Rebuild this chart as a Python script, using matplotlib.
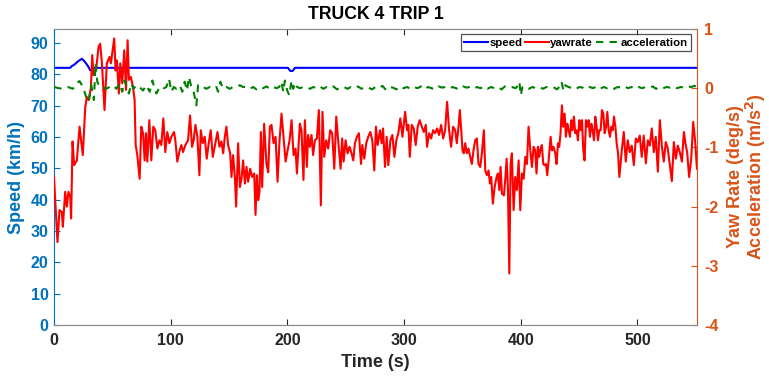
import matplotlib
matplotlib.use('Agg')
import matplotlib.pyplot as plt
from matplotlib.lines import Line2D

plt.rcParams['font.family'] = ['Liberation Sans', 'DejaVu Sans']
plt.rcParams['font.weight'] = 'bold'
plt.rcParams['axes.unicode_minus'] = False

# speed trace (km/h)
speed_time = [0, 14, 15, 17, 19.5, 21, 24, 26.5, 28.5, 30, 31, 32.5, 34,
              200.5, 202.5, 204.5, 206.5, 551]
speed = [82.1, 82.1, 82.6, 83.0, 83.8, 84.3, 85.0, 84.0, 83.0, 82.1, 81.3, 81.3, 82.1,
         82.1, 81.1, 81.1, 82.1, 82.1]

# yaw rate (deg/s)
yaw_time = [
    0.0, 3.0, 4.7, 6.7, 7.6, 9.6, 11.0, 12.4, 13.9, 14.7,
    15.9, 17.3, 19.6, 21.9, 24.7, 26.8, 28.2, 29.6, 31.6, 32.8,
    33.9, 36.2, 38.2, 39.6, 41.1, 43.3, 45.3, 47.6, 48.8, 49.9,
    51.6, 52.8, 53.9, 55.6, 56.8, 58.5, 60.2, 61.7, 63.1, 64.2,
    65.9, 67.7, 69.1, 70.0, 71.4, 73.4, 74.8, 76.3, 77.7, 78.8,
    80.0, 81.7, 83.4, 85.1, 86.8, 88.6, 90.3, 92.0, 93.7, 95.4,
    97.1, 98.9, 100.6, 102.9, 104.0, 105.7, 107.7, 109.2, 110.6, 112.6,
    114.9, 116.6, 118.3, 119.7, 121.2, 122.9, 124.6, 125.8, 127.5, 129.2,
    130.9, 132.6, 134.3, 136.1, 140.1, 141.8, 143.5, 145.0, 146.4, 147.8,
    149.2, 151.0, 152.1, 153.5, 155.0, 156.1, 157.8, 159.3, 160.7, 162.1,
    163.6, 165.0, 166.4, 168.1, 169.8, 171.6, 172.7, 173.9, 175.0, 176.1,
    177.3, 178.4, 180.1, 182.1, 183.6, 185.0, 186.4, 188.2, 189.9, 191.6,
    193.3, 195.0, 196.7, 198.5, 200.2, 201.9, 203.6, 205.3, 207.0, 208.2,
    210.7, 212.1, 213.8, 215.0, 216.7, 217.8, 219.3, 220.7, 222.1, 223.6,
    225.3, 227.0, 228.7, 230.1, 231.6, 233.3, 235.0, 236.7, 238.4, 240.2,
    241.9, 243.6, 245.6, 247.0, 248.2, 249.9, 251.6, 253.3, 255.0, 256.5,
    257.9, 259.6, 261.3, 263.1, 264.2, 265.9, 267.6, 269.3, 271.1, 272.8,
    274.5, 275.9, 277.4, 279.4, 280.8, 282.0, 283.7, 285.1, 286.5, 288.3,
    290.0, 291.7, 293.4, 295.1, 296.8, 298.6, 300.9, 302.6, 303.7, 304.9,
    306.6, 308.3, 310.0, 311.7, 313.4, 315.2, 316.9, 318.6, 319.7, 321.5,
    323.2, 324.9, 326.6, 328.3, 330.0, 331.8, 333.5, 335.2, 336.9, 338.6,
    340.3, 342.1, 343.8, 345.2, 346.7, 347.8, 349.0, 350.1, 351.2, 352.4,
    353.8, 355.2, 356.7, 358.1, 359.5, 361.0, 362.4, 363.8, 365.3, 366.7,
    368.4, 369.6, 371.0, 372.4, 373.6, 374.7, 376.1, 377.6, 379.3, 380.4,
    381.6, 382.7, 383.9, 385.6, 386.7, 387.9, 389.0, 390.2, 391.3, 392.4,
    393.9, 395.3, 396.7, 398.2, 399.6, 401.0, 402.5, 403.9, 405.3, 406.7,
    408.2, 409.6, 411.0, 412.4, 413.5, 414.7, 415.8, 417.0, 418.1, 419.3,
    420.4, 421.6, 422.7, 423.8, 425.6, 426.7, 428.1, 429.6, 430.7, 431.9,
    433.0, 434.1, 435.3, 436.4, 437.6, 438.7, 439.9, 441.0, 442.2, 443.3,
    444.4, 445.6, 446.7, 447.9, 449.0, 450.2, 451.3, 452.5, 453.6, 454.7,
    455.9, 457.0, 458.2, 459.3, 460.5, 461.6, 462.8, 463.9, 465.0, 466.2,
    467.3, 468.5, 469.6, 470.8, 471.9, 473.1, 474.2, 475.3, 476.5, 477.6,
    478.8, 479.9, 481.1, 482.2, 483.4, 484.5, 486.6, 488.3, 490.0, 491.7,
    493.4, 495.1, 496.9, 498.6, 500.3, 502.0, 503.7, 505.4, 507.2, 508.9,
    510.6, 512.3, 514.0, 515.7, 517.5, 519.2, 520.9, 522.6, 524.3, 526.0,
    527.8, 529.5, 531.2, 532.9, 534.6, 536.3, 538.1, 539.8, 541.2, 542.6,
    544.3, 546.1, 547.8, 549.5, 551.0,
]
yaw_rate = [
    -1.50, -2.60, -2.06, -2.09, -2.34, -1.75, -2.00, -1.75, -1.83, -2.20,
    -0.90, -1.30, -1.22, -0.65, -1.13, -0.32, -0.15, -0.20, 0.00, 0.56,
    0.22, 0.33, 0.70, 0.75, 0.42, -0.37, 0.42, 0.53, 0.42, 0.59,
    0.84, 0.30, 0.47, -0.09, 0.42, 0.08, 0.64, -0.03, 0.81, 0.14,
    0.19, 0.02, -0.20, -0.96, -1.13, -1.53, -0.65, -0.76, -1.22, -0.76,
    -1.24, -0.54, -1.22, -0.65, -0.71, -1.02, -0.88, -0.96, -0.51, -1.08,
    -0.74, -0.93, -0.82, -0.74, -0.88, -1.24, -1.05, -0.96, -1.08, -0.96,
    -0.88, -0.46, -0.99, -0.88, -0.62, -0.82, -1.47, -0.71, -0.93, -0.82,
    -1.19, -0.93, -0.71, -1.16, -0.74, -0.99, -0.90, -1.10, -0.82, -0.65,
    -0.96, -1.10, -1.50, -1.13, -1.50, -2.00, -0.93, -1.67, -1.53, -1.22,
    -1.61, -1.33, -1.58, -1.36, -1.50, -1.44, -2.14, -1.47, -1.89, -1.75,
    -0.74, -1.67, -0.60, -1.28, -1.42, -0.65, -0.62, -0.93, -0.82, -1.58,
    -0.88, -0.43, -0.82, -1.24, -1.05, -0.88, -0.54, -1.13, -1.02, -1.44,
    -0.60, -0.71, -1.55, -0.54, -1.33, -0.79, -0.99, -0.79, -1.13, -0.88,
    -0.85, -0.37, -1.98, -0.40, -1.16, -0.88, -1.02, -0.71, -0.76, -1.36,
    -0.48, -0.90, -1.36, -0.85, -1.24, -0.88, -1.10, -0.99, -1.10, -1.22,
    -0.93, -0.82, -0.76, -1.28, -0.96, -1.19, -0.93, -0.82, -0.74, -0.88,
    -1.39, -0.65, -0.96, -0.71, -0.93, -0.68, -1.33, -0.82, -1.30, -0.88,
    -0.79, -1.16, -0.88, -0.76, -0.51, -0.82, -0.40, -0.71, -0.62, -1.16,
    -0.62, -0.68, -0.96, -0.65, -0.54, -0.65, -0.74, -0.62, -0.99, -0.76,
    -0.85, -0.71, -0.76, -0.68, -0.79, -0.62, -0.85, -0.71, -0.23, -0.71,
    -0.99, -0.65, -0.71, -0.93, -0.65, -0.37, -0.71, -1.05, -1.10, -0.93,
    -1.10, -1.02, -1.16, -1.28, -1.05, -0.88, -0.85, -1.28, -1.33, -1.10,
    -0.71, -1.39, -1.47, -1.39, -1.61, -1.50, -1.95, -1.67, -1.50, -1.44,
    -1.72, -1.33, -1.78, -1.81, -1.55, -1.19, -1.67, -3.13, -1.28, -1.10,
    -2.06, -1.50, -1.72, -1.22, -2.06, -1.44, -1.53, -1.16, -1.28, -0.65,
    -1.05, -1.33, -0.99, -1.05, -1.44, -0.99, -1.16, -1.02, -0.96, -1.28,
    -1.30, -1.28, -1.47, -1.24, -0.82, -1.05, -0.99, -1.10, -1.28, -0.93,
    -0.99, -0.76, -0.29, -0.65, -0.43, -0.82, -0.60, -0.71, -0.82, -0.54,
    -0.71, -0.48, -0.76, -0.71, -0.88, -0.54, -0.71, -0.54, -1.05, -1.22,
    -0.54, -0.65, -0.54, -0.82, -0.60, -0.71, -0.88, -0.48, -0.65, -0.88,
    -0.71, -0.71, -0.37, -0.43, -0.76, -0.65, -0.40, -0.71, -0.82, -0.65,
    -0.71, -0.48, -0.65, -0.93, -1.10, -1.50, -1.05, -0.74, -1.24, -0.88,
    -1.08, -0.97, -1.30, -0.85, -0.91, -0.80, -1.16, -0.80, -1.27, -0.88,
    -0.97, -0.68, -1.08, -0.82, -1.41, -0.54, -0.97, -1.24, -0.91, -1.02,
    -1.30, -1.57, -0.91, -1.19, -0.97, -1.08, -1.24, -0.74, -0.94, -1.08,
    -1.50, -1.19, -0.57, -0.91, -1.36,
]

# longitudinal acceleration (m/s^2)
acc_time = [
    0.4, 4.0, 7.6, 11.9, 16.2, 19.0, 21.9, 24.8, 27.6, 29.9,
    31.9, 34.2, 35.6, 37.1, 39.1, 41.9, 44.8, 47.6, 50.5, 53.4,
    56.2, 58.5, 60.5, 62.5, 64.2, 66.2, 68.2, 70.5, 73.4, 76.3,
    79.1, 82.0, 84.3, 86.3, 87.7, 90.6, 93.4, 96.3, 98.6, 100.6,
    102.6, 104.9, 107.7, 110.0, 112.0, 114.0, 115.7, 117.7, 119.7, 122.0,
    123.5, 124.9, 127.8, 130.6, 133.5, 136.3, 139.2, 140.6, 142.6, 144.9,
    147.8, 150.6, 153.5, 156.4, 159.2, 162.1, 164.9, 167.8, 170.7, 173.5,
    176.4, 179.3, 182.1, 185.0, 187.8, 190.7, 193.0, 195.0, 196.4, 197.9,
    199.9, 201.6, 203.6, 205.0, 206.7, 208.4, 210.7, 213.6, 216.5, 219.3,
    222.2, 225.0, 227.9, 230.8, 233.6, 236.5, 239.5, 242.5, 245.5, 248.5,
    251.5, 254.5, 257.5, 260.5, 263.5, 266.5, 269.5, 272.5, 275.5, 278.5,
    281.5, 284.5, 287.5, 290.5, 293.5, 296.5, 299.5, 302.5, 305.5, 308.5,
    311.5, 314.5, 317.5, 320.5, 323.5, 326.5, 329.5, 332.5, 335.5, 338.5,
    341.5, 344.5, 347.5, 350.5, 353.5, 356.5, 359.5, 362.5, 365.5, 368.5,
    371.5, 374.5, 377.5, 380.5, 383.5, 386.5, 389.5, 392.5, 395.5, 397.5,
    398.8, 400.0, 401.5, 404.0, 407.0, 410.0, 413.0, 416.0, 419.0, 422.0,
    425.0, 428.0, 431.0, 433.5, 435.0, 436.5, 438.0, 441.0, 444.0, 447.0,
    450.0, 453.0, 456.0, 459.0, 462.0, 465.0, 468.0, 471.0, 474.0, 477.0,
    480.0, 483.0, 486.0, 489.0, 492.0, 495.0, 498.0, 501.0, 504.0, 507.0,
    510.0, 513.0, 516.0, 519.0, 522.0, 525.0, 528.0, 531.0, 534.0, 537.0,
    540.0, 543.0, 546.0, 549.0, 551.0,
]
accel = [
    0.02, 0.00, -0.01, 0.02, -0.01, 0.08, 0.12, 0.02, -0.15, -0.23,
    0.05, -0.20, 0.42, 0.11, 0.02, 0.02, -0.01, 0.02, 0.05, -0.01,
    0.08, -0.06, 0.13, 0.02, -0.09, 0.08, -0.01, 0.05, 0.02, -0.04,
    0.05, -0.06, 0.13, -0.01, -0.09, 0.02, -0.01, 0.02, 0.16, -0.06,
    0.02, -0.01, 0.05, -0.06, 0.11, -0.04, 0.19, 0.02, -0.06, -0.29,
    0.05, 0.02, 0.02, -0.01, 0.02, -0.01, 0.02, -0.06, 0.11, -0.01,
    0.02, -0.01, 0.02, 0.02, 0.05, 0.02, 0.02, -0.01, 0.02, -0.02,
    0.02, 0.00, 0.03, -0.01, 0.02, 0.00, 0.02, 0.11, -0.06, 0.13,
    -0.04, -0.12, 0.13, -0.01, 0.09, 0.02, 0.00, 0.02, 0.02, -0.01,
    0.02, 0.00, 0.03, -0.01, 0.02, 0.00, 0.03, -0.02, 0.01, 0.02,
    -0.01, 0.02, 0.00, 0.03, -0.01, 0.02, 0.01, -0.02, 0.02, 0.00,
    0.04, -0.03, 0.02, 0.01, -0.02, 0.03, 0.00, 0.02, -0.01, 0.02,
    0.00, 0.03, -0.02, 0.02, 0.00, -0.02, 0.03, 0.01, 0.02, -0.01,
    0.02, 0.00, -0.02, 0.03, 0.01, 0.02, -0.01, 0.02, 0.00, 0.03,
    -0.01, 0.02, 0.00, 0.02, -0.02, 0.03, 0.01, 0.02, 0.00, 0.04,
    0.11, -0.12, 0.02, 0.03, -0.01, 0.02, 0.00, 0.02, -0.01, 0.02,
    0.01, 0.02, -0.02, 0.03, 0.11, -0.04, 0.05, 0.02, 0.00, -0.02,
    0.02, 0.01, -0.02, 0.02, 0.00, 0.03, -0.01, 0.02, 0.00, 0.02,
    -0.01, 0.02, 0.01, 0.03, 0.00, 0.02, -0.01, 0.02, 0.00, 0.02,
    0.01, 0.03, -0.01, 0.02, 0.00, 0.02, 0.01, 0.03, 0.00, 0.02,
    0.01, 0.03, 0.02, 0.04, 0.02,
]

assert len(yaw_time) == len(yaw_rate)
assert len(acc_time) == len(accel)

left_col = '#0072BD'
right_col = '#D95319'
acc_dash = (0, (3.5, 3))

fig = plt.figure(figsize=(7.69, 3.76), dpi=100)
ax = fig.add_axes([0.0702, 0.1356, 0.8361, 0.7873])
ax2 = ax.twinx()

ax.plot(speed_time, speed, color='blue', lw=1.5)
ax2.plot(yaw_time, yaw_rate, color='red', lw=1.5)
ax2.plot(acc_time, accel, color=(0, 0.5, 0), lw=1.5, ls=acc_dash)

ax.set_xlim(0, 551)
ax.set_ylim(0, 94.5)
ax2.set_ylim(-4, 1)

ax.set_xticks([0, 100, 200, 300, 400, 500])
ax.set_yticks(range(0, 91, 10))
ax2.set_yticks([-4, -3, -2, -1, 0, 1])

ax.tick_params(axis='x', direction='in', top=True, length=4.5, width=0.8,
               labelsize=11.5, colors='#262626', pad=6)
ax.tick_params(axis='y', direction='in', length=4.5, width=0.8,
               labelsize=11.5, colors=left_col, pad=4)
ax2.tick_params(axis='y', direction='in', length=4.5, width=0.8,
                labelsize=11.5, colors=right_col, pad=5)

for a in (ax, ax2):
    a.spines['top'].set_color('#8c8c8c')
    a.spines['bottom'].set_color('#8c8c8c')
    for s in a.spines.values():
        s.set_linewidth(0.8)
ax.spines['left'].set_color(left_col)
ax.spines['right'].set_visible(False)
ax2.spines['left'].set_visible(False)
ax2.spines['right'].set_color(right_col)

ax.set_xlabel('Time (s)', fontsize=13, fontweight='bold', color='#262626', labelpad=4)
ax.set_ylabel('Speed (km/h)', fontsize=13, fontweight='bold', color=left_col, labelpad=4)
ax2.set_ylabel('Yaw Rate (deg/s)\nAcceleration (m/s$^\\mathbf{2}$)', fontsize=13,
               fontweight='bold', color=right_col, labelpad=6, linespacing=1.0)
ax.set_title('TRUCK 4 TRIP 1', fontsize=12.7, fontweight='bold', pad=7)

handles = [Line2D([], [], color='blue', lw=1.5),
           Line2D([], [], color='red', lw=1.5),
           Line2D([], [], color=(0, 0.5, 0), lw=1.5, ls=acc_dash)]
leg = ax2.legend(handles, ['speed', 'yawrate', 'acceleration'], loc='upper right',
                 bbox_to_anchor=(0.995, 0.99), ncol=3, fontsize=8.2, frameon=True,
                 fancybox=False, handlelength=2.1, handletextpad=0.1,
                 columnspacing=0.25, borderpad=0.3, borderaxespad=0.2)
leg.get_frame().set_edgecolor('#262626')
leg.get_frame().set_linewidth(0.9)

fig.savefig('out.png', dpi=100)
